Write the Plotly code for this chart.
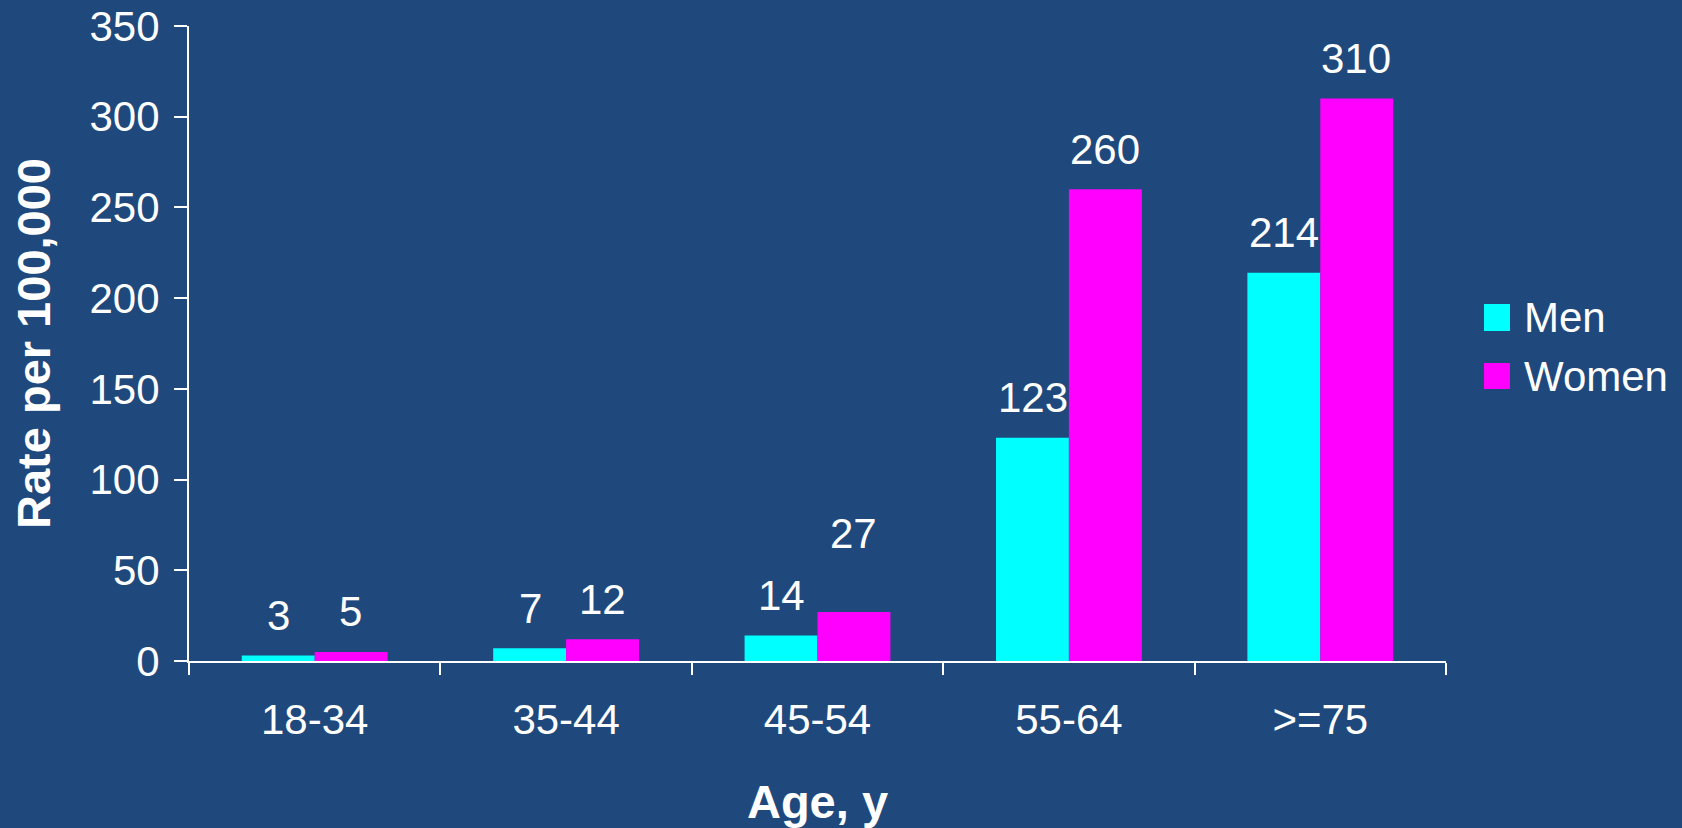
import plotly.graph_objects as go

# ---- data ----
age_groups = ["18-34", "35-44", "45-54", "55-64", ">=75"]
men = [3, 7, 14, 123, 214]
women = [5, 12, 27, 260, 310]
series_names = ["Men", "Women"]
y_ticks = [0, 50, 100, 150, 200, 250, 300, 350]

# ---- style ----
BG = "#1F497D"
COLORS = ["#00FFFF", "#FF00FF"]
FONT = "Liberation Sans, Arial, sans-serif"
FS = 42
BAR_GAP = 0.42
BAR_PX = 36          # half of a bar width in pixels (label x offset)
LABEL_LIFT = 40      # px from bar top to label centre
EXTRA_LIFT = {("Women", "45-54"): 39}

fig = go.Figure()
for name, vals, col in zip(series_names, [men, women], COLORS):
    fig.add_trace(go.Bar(
        x=age_groups, y=vals, name=name,
        marker=dict(color=col, line=dict(width=0)),
        showlegend=False,
    ))

# value labels
annotations = []
for i, (name, vals) in enumerate(zip(series_names, [men, women])):
    shift = -BAR_PX if i == 0 else BAR_PX
    for cat, v in zip(age_groups, vals):
        annotations.append(dict(
            x=cat, y=v, xref="x", yref="y", text=str(v), showarrow=False,
            xshift=shift, yshift=LABEL_LIFT + EXTRA_LIFT.get((name, cat), 0),
            yanchor="middle", xanchor="center",
            font=dict(family=FONT, size=FS, color="white"),
        ))

# manual legend (large square swatches)
shapes = []
legend_rows = [(0.5622, 0.5197, 0.541), (0.4693, 0.4283, 0.4488)]
for name, col, (top, bot, mid) in zip(series_names, COLORS, legend_rows):
    shapes.append(dict(type="rect", xref="paper", yref="paper",
                       x0=1.0302, x1=1.0509, y0=bot, y1=top,
                       fillcolor=col, line=dict(width=0)))
    annotations.append(dict(x=1.0605, y=mid, xref="paper", yref="paper",
                            text=name, showarrow=False, xanchor="left",
                            yanchor="middle",
                            font=dict(family=FONT, size=FS, color="white")))

fig.update_layout(
    width=1682, height=828,
    paper_bgcolor=BG, plot_bgcolor=BG,
    margin=dict(l=189, r=236, t=26, b=167),
    barmode="group", bargap=BAR_GAP, bargroupgap=0,
    font=dict(family=FONT, size=FS, color="white"),
    annotations=annotations, shapes=shapes,
    showlegend=False,
)
fig.update_xaxes(
    type="category", tickson="boundaries",
    showline=True, linecolor="white", linewidth=2,
    ticks="outside", ticklen=12, tickwidth=2, tickcolor="white",
    showgrid=False, zeroline=False,
    tickfont=dict(family=FONT, size=FS, color="white"),
    ticklabelstandoff=21,
    title=dict(text="<b>Age, y</b>", font=dict(family=FONT, size=47, color="white"),
               standoff=48),
    automargin=False,
)
fig.update_yaxes(
    range=[0, 350], tickvals=y_ticks,
    showline=True, linecolor="white", linewidth=2,
    ticks="outside", ticklen=13, tickwidth=2, tickcolor="white",
    showgrid=False, zeroline=False,
    tickfont=dict(family=FONT, size=FS, color="white"),
    ticklabelstandoff=6,
    title=dict(text="<b>Rate per 100,000</b>", font=dict(family=FONT, size=47, color="white"),
               standoff=24),
    automargin=False,
)

fig.write_html("out.html")
